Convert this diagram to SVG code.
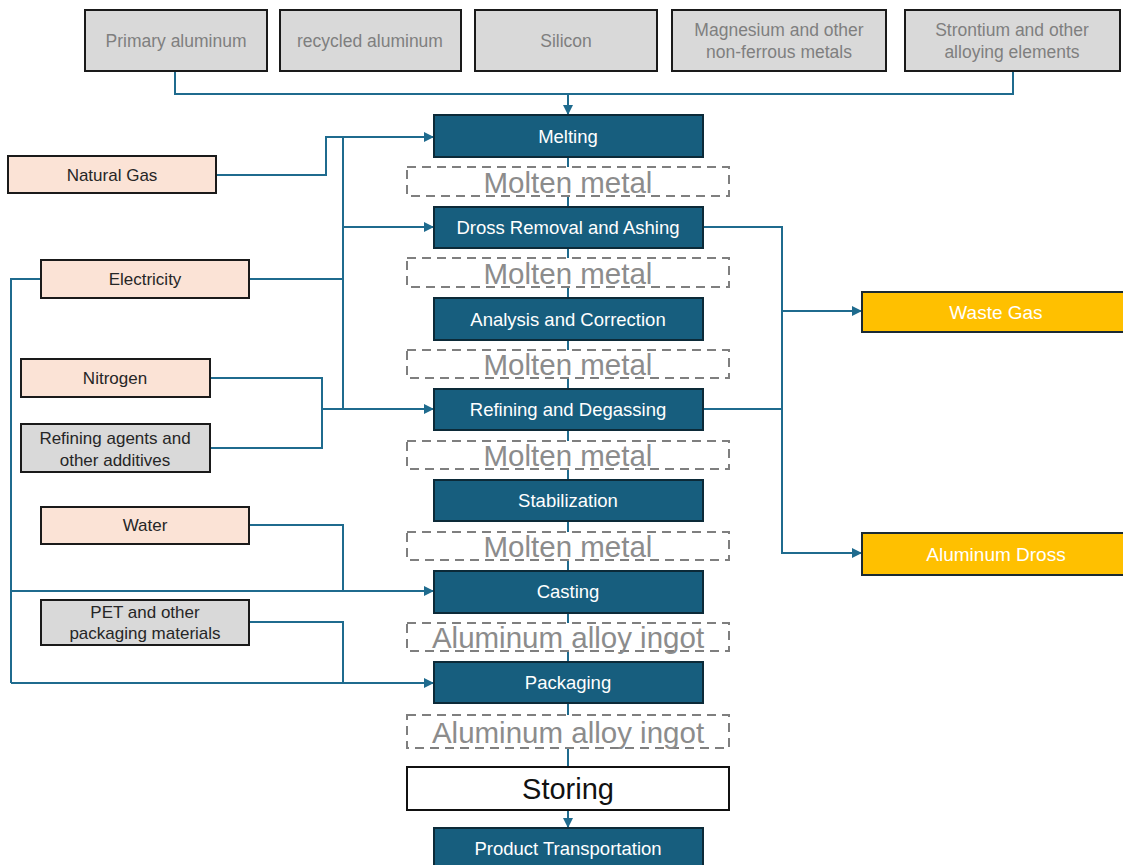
<svg xmlns="http://www.w3.org/2000/svg" width="1123" height="865" viewBox="0 0 1123 865">
<defs>
<style>
.src rect{fill:#d9d9d9;stroke:#1a1a1a;stroke-width:2}
.src text{fill:#7f7f7f;font-family:"Liberation Sans",Arial,sans-serif;font-size:17.5px;text-anchor:middle}
.inp rect{fill:#fbe3d6;stroke:#1a1a1a;stroke-width:2}
.inpg rect{fill:#d9d9d9;stroke:#1a1a1a;stroke-width:2}
.inp text,.inpg text{fill:#262626;font-family:"Liberation Sans",Arial,sans-serif;font-size:17px;text-anchor:middle}
.proc rect{fill:#175e7e;stroke:#0c2a38;stroke-width:2}
.proc text{fill:#fff;font-family:"Liberation Sans",Arial,sans-serif;font-size:18.5px;text-anchor:middle}
.mid rect{fill:#fff;stroke:#7f7f7f;stroke-width:2;stroke-dasharray:9 6}
.mid text{fill:#8c8c8c;font-family:"Liberation Sans",Arial,sans-serif;font-size:29.5px;text-anchor:middle}
.out rect{fill:#ffc000;stroke:#1a2a33;stroke-width:2}
.out text{fill:#fff;font-family:"Liberation Sans",Arial,sans-serif;font-size:19px;text-anchor:middle}
.store rect{fill:#fff;stroke:#111;stroke-width:2}
.store text{fill:#111;font-family:"Liberation Sans",Arial,sans-serif;font-size:29px;text-anchor:middle}
.c{fill:none;stroke:#1f6b8e;stroke-width:2}
</style>
<marker id="arr" viewBox="0 0 10 10" refX="10" refY="5" markerWidth="10" markerHeight="10" orient="auto" markerUnits="userSpaceOnUse">
<path d="M0,0 L10,5 L0,10 z" fill="#1f6b8e"/>
</marker>
</defs>
<rect width="1123" height="865" fill="#fff"/>

<g id="connectors">
<path class="c" d="M568,157 V810"/>
<path class="c" d="M568,810 V828" marker-end="url(#arr)"/>
<path class="c" d="M175,71 V94 H1013 V71"/>
<path class="c" d="M568,94 V115" marker-end="url(#arr)"/>
<path class="c" d="M216,175 H326 V137 H434" marker-end="url(#arr)"/>
<path class="c" d="M343,137 V409"/>
<path class="c" d="M249,279 H343"/>
<path class="c" d="M343,227 H434" marker-end="url(#arr)"/>
<path class="c" d="M322,409 H434" marker-end="url(#arr)"/>
<path class="c" d="M210,378 H322 V448 H210"/>
<path class="c" d="M41,279 H11 V683"/>
<path class="c" d="M11,591 H434" marker-end="url(#arr)"/>
<path class="c" d="M11,683 H434" marker-end="url(#arr)"/>
<path class="c" d="M249,525 H343 V591"/>
<path class="c" d="M249,622 H343 V683"/>
<path class="c" d="M703,227 H782 V553 H862" marker-end="url(#arr)"/>
<path class="c" d="M703,409 H782"/>
<path class="c" d="M782,311 H862" marker-end="url(#arr)"/>
</g>

<g id="src-primary" class="src"><rect x="85" y="10" width="182" height="61"/><text x="176" y="47">Primary aluminum</text></g>
<g id="src-recycled" class="src"><rect x="280" y="10" width="181" height="61"/><text x="370" y="47">recycled aluminum</text></g>
<g id="src-silicon" class="src"><rect x="475" y="10" width="182" height="61"/><text x="566" y="47">Silicon</text></g>
<g id="src-magnesium" class="src"><rect x="672" y="10" width="214" height="61"/><text x="779" y="36">Magnesium and other</text><text x="779" y="58">non-ferrous metals</text></g>
<g id="src-strontium" class="src"><rect x="905" y="10" width="215" height="61"/><text x="1012" y="36">Strontium and other</text><text x="1012" y="58">alloying elements</text></g>

<g id="in-natural-gas" class="inp"><rect x="8" y="156" width="208" height="37"/><text x="112" y="181">Natural Gas</text></g>
<g id="in-electricity" class="inp"><rect x="41" y="260" width="208" height="38"/><text x="145" y="285">Electricity</text></g>
<g id="in-nitrogen" class="inp"><rect x="21" y="359" width="189" height="38"/><text x="115" y="384">Nitrogen</text></g>
<g id="in-refining-agents" class="inpg"><rect x="21" y="424" width="189" height="48"/><text x="115" y="444">Refining agents and</text><text x="115" y="466">other additives</text></g>
<g id="in-water" class="inp"><rect x="41" y="507" width="208" height="37"/><text x="145" y="531">Water</text></g>
<g id="in-pet" class="inpg"><rect x="41" y="600" width="208" height="45"/><text x="145" y="618">PET and other</text><text x="145" y="639">packaging materials</text></g>

<g id="p-melting" class="proc"><rect x="434" y="115" width="269" height="42"/><text x="568" y="143">Melting</text></g>
<g id="m-molten-1" class="mid"><rect x="407" y="167" width="322" height="29"/><text x="568" y="193">Molten metal</text></g>
<g id="p-dross" class="proc"><rect x="434" y="207" width="269" height="41"/><text x="568" y="234">Dross Removal and Ashing</text></g>
<g id="m-molten-2" class="mid"><rect x="407" y="258" width="322" height="29"/><text x="568" y="284">Molten metal</text></g>
<g id="p-analysis" class="proc"><rect x="434" y="298" width="269" height="42"/><text x="568" y="326">Analysis and Correction</text></g>
<g id="m-molten-3" class="mid"><rect x="407" y="350" width="322" height="28"/><text x="568" y="375">Molten metal</text></g>
<g id="p-refining" class="proc"><rect x="434" y="389" width="269" height="41"/><text x="568" y="416">Refining and Degassing</text></g>
<g id="m-molten-4" class="mid"><rect x="407" y="441" width="322" height="28"/><text x="568" y="466">Molten metal</text></g>
<g id="p-stabilization" class="proc"><rect x="434" y="480" width="269" height="41"/><text x="568" y="507">Stabilization</text></g>
<g id="m-molten-5" class="mid"><rect x="407" y="532" width="322" height="28"/><text x="568" y="557">Molten metal</text></g>
<g id="p-casting" class="proc"><rect x="434" y="571" width="269" height="42"/><text x="568" y="598">Casting</text></g>
<g id="m-ingot-1" class="mid"><rect x="407" y="623" width="322" height="28"/><text x="568" y="648">Aluminum alloy ingot</text></g>
<g id="p-packaging" class="proc"><rect x="434" y="662" width="269" height="41"/><text x="568" y="689">Packaging</text></g>
<g id="m-ingot-2" class="mid"><rect x="407" y="715" width="322" height="33"/><text x="568" y="743">Aluminum alloy ingot</text></g>
<g id="p-storing" class="store"><rect x="407" y="767" width="322" height="43"/><text x="568" y="799">Storing</text></g>
<g id="p-transport" class="proc"><rect x="434" y="828" width="269" height="42"/><text x="568" y="855">Product Transportation</text></g>

<g id="out-waste-gas" class="out"><rect x="862" y="292" width="265" height="40"/><text x="996" y="319">Waste Gas</text></g>
<g id="out-dross" class="out"><rect x="862" y="533" width="265" height="42"/><text x="996" y="561">Aluminum Dross</text></g>
</svg>
